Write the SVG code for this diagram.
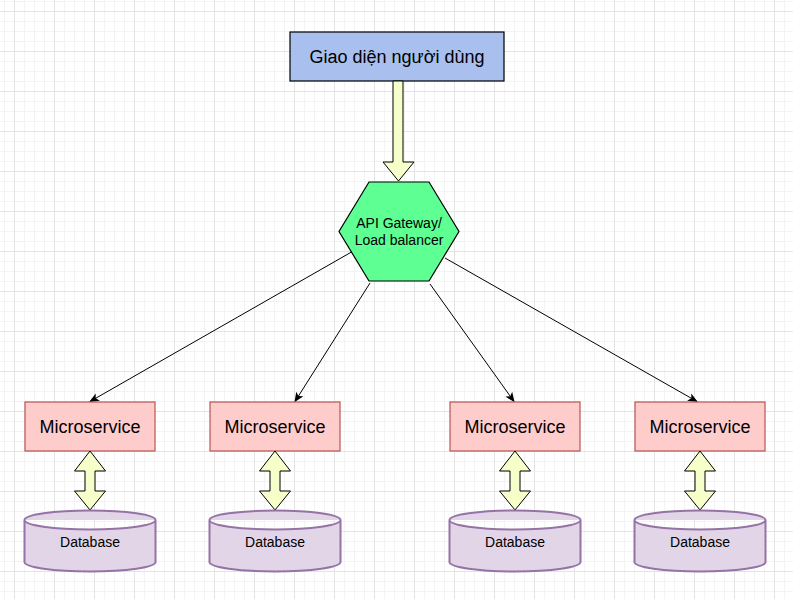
<svg xmlns="http://www.w3.org/2000/svg" width="793" height="599" viewBox="0 0 793 599">
  <defs>
    <pattern id="grid" x="14" y="11" width="40" height="40" patternUnits="userSpaceOnUse">
      <path d="M10.5 0V40M20.5 0V40M30.5 0V40M0 10.5H40M0 20.5H40M0 30.5H40" stroke="#f3f3f3" stroke-width="1" fill="none"/>
      <path d="M0.5 0V40M0 0.5H40" stroke="#e4e4e4" stroke-width="1" fill="none"/>
    </pattern>
    <marker id="arrow" viewBox="0 0 10 10" refX="9" refY="5" markerWidth="10" markerHeight="10" markerUnits="userSpaceOnUse" orient="auto">
      <path d="M0 0.8 L10 5 L0 9.2 L2.5 5 Z" fill="#000"/>
    </marker>
    <style>
      .lbl { font-family: "Liberation Sans", Arial, sans-serif; fill: #000; text-anchor: middle; }
      .ms rect { fill: #FFCCCC; stroke: #B85450; stroke-width: 1.2; }
      .db path { fill: #E1D5E7; stroke: #9673A6; stroke-width: 2; }
      .dbl { fill: #F6FFCA; stroke: #000; stroke-width: 1; }
      .edge { stroke: #000; stroke-width: 1; fill: none; marker-end: url(#arrow); }
    </style>
  </defs>
  <rect width="793" height="599" fill="#ffffff"/>
  <rect width="793" height="599" fill="url(#grid)"/>

  <g id="ui">
    <rect x="290" y="32" width="214" height="49" fill="#A9BFEE" stroke="#000" stroke-width="1.2"/>
    <text class="lbl" x="397" y="63" font-size="18">Giao diện người dùng</text>
  </g>

  <g id="ui-to-gateway">
    <polygon class="dbl" points="393,81 403,81 403,162 414,162 398.5,181 383,162 393,162"/>
  </g>

  <g id="gateway">
    <polygon points="369,182 429,182 459,231.5 429,281 369,281 339,231.5" fill="#5EFF93" stroke="#000" stroke-width="1.2"/>
    <text class="lbl" x="399" y="228" font-size="14">API Gateway/</text>
    <text class="lbl" x="399" y="245" font-size="14">Load balancer</text>
  </g>

  <g id="connectors">
    <line class="edge" x1="351.5" y1="252" x2="90" y2="401.5"/>
    <line class="edge" x1="370" y1="283" x2="295" y2="401.5"/>
    <line class="edge" x1="430" y1="284" x2="514" y2="401.5"/>
    <line class="edge" x1="445" y1="258" x2="697" y2="401.5"/>
  </g>

  <g id="ms1" class="ms">
    <rect x="25" y="402" width="130" height="49"/>
    <text class="lbl" x="90" y="433" font-size="18">Microservice</text>
  </g>
  <g id="ms2" class="ms">
    <rect x="210" y="402" width="130" height="49"/>
    <text class="lbl" x="275" y="433" font-size="18">Microservice</text>
  </g>
  <g id="ms3" class="ms">
    <rect x="450" y="402" width="130" height="49"/>
    <text class="lbl" x="515" y="433" font-size="18">Microservice</text>
  </g>
  <g id="ms4" class="ms">
    <rect x="635" y="402" width="130" height="49"/>
    <text class="lbl" x="700" y="433" font-size="18">Microservice</text>
  </g>

  <g id="link1"><polygon class="dbl" points="90,451 105.5,471 95,471 95,491 105.5,491 90,510 74.5,491 85,491 85,471 74.5,471"/></g>
  <g id="link2"><polygon class="dbl" points="275,451 290.5,471 280,471 280,491 290.5,491 275,510 259.5,491 270,491 270,471 259.5,471"/></g>
  <g id="link3"><polygon class="dbl" points="515,451 530.5,471 520,471 520,491 530.5,491 515,510 499.5,491 510,491 510,471 499.5,471"/></g>
  <g id="link4"><polygon class="dbl" points="700,451 715.5,471 705,471 705,491 715.5,491 700,510 684.5,491 695,491 695,471 684.5,471"/></g>

  <g id="db1" class="db">
    <path d="M24.5 520 A65.5 9.5 0 0 1 155.5 520 V562 A65.5 9.5 0 0 1 24.5 562 Z M24.5 520 A65.5 9.5 0 0 0 155.5 520"/>
    <text class="lbl" x="90" y="547" font-size="14">Database</text>
  </g>
  <g id="db2" class="db">
    <path d="M209.5 520 A65.5 9.5 0 0 1 340.5 520 V562 A65.5 9.5 0 0 1 209.5 562 Z M209.5 520 A65.5 9.5 0 0 0 340.5 520"/>
    <text class="lbl" x="275" y="547" font-size="14">Database</text>
  </g>
  <g id="db3" class="db">
    <path d="M449.5 520 A65.5 9.5 0 0 1 580.5 520 V562 A65.5 9.5 0 0 1 449.5 562 Z M449.5 520 A65.5 9.5 0 0 0 580.5 520"/>
    <text class="lbl" x="515" y="547" font-size="14">Database</text>
  </g>
  <g id="db4" class="db">
    <path d="M634.5 520 A65.5 9.5 0 0 1 765.5 520 V562 A65.5 9.5 0 0 1 634.5 562 Z M634.5 520 A65.5 9.5 0 0 0 765.5 520"/>
    <text class="lbl" x="700" y="547" font-size="14">Database</text>
  </g>
</svg>
